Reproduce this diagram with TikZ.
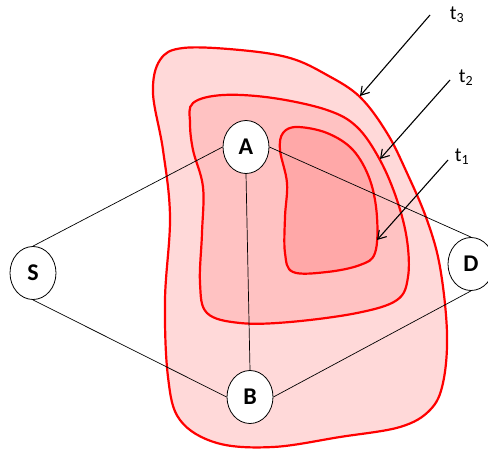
\documentclass[tikz,border=0pt]{standalone}
\usepackage{fontspec}
\setmainfont{Carlito}
\usetikzlibrary{arrows.meta,shapes.geometric}
\begin{document}
\begin{tikzpicture}[
  x={(1pt,0pt)},
  y={(0pt,-1pt)},
  blob/.style={draw=red,line width=2.2pt,smooth cycle,tension=0.6},
  vertex/.style={ellipse,draw,line width=0.8pt,fill=white,minimum width=46pt,minimum height=53pt,
    inner sep=0pt,font=\fontsize{24}{26}\selectfont\bfseries},
  edge/.style={line width=0.7pt},
  pointer/.style={line width=1.1pt,-{Straight Barb[length=8pt,width=10pt]}},
  tlabel/.style={font=\fontsize{20}{22}\selectfont,inner sep=0pt}
]
\useasboundingbox (0,0) rectangle (488,450);
\filldraw[blob,fill=red!15] plot coordinates {(183,48) (240,50) (290,58) (327,75) (360,97)
  (387,133) (407,173) (427,220) (440,267) (447,333) (443,383) (430,410) (400,427)
  (340,437) (273,447) (217,443) (180,420) (168,377) (165,300) (170,217) (163,150)
  (153,93) (160,60)};
\filldraw[blob,fill=red!24] plot coordinates {(193,103) (223,95) (273,98) (327,110)
  (357,127) (380,160) (397,200) (407,240) (408,277) (397,300) (357,313) (290,322)
  (240,323) (207,313) (200,283) (202,233) (203,187) (193,150) (190,123)};
\filldraw[blob,fill=red!34] plot coordinates {(283,133) (297,127) (327,133) (353,150)
  (370,180) (377,217) (375,253) (360,265) (327,272) (293,272) (285,253) (285,217)
  (287,183) (280,150)};
\node[vertex] (S) at (33,273) {S};
\node[vertex] (A) at (246,147) {A};
\node[vertex] (B) at (250,397) {B};
\node[vertex] (D) at (471,264) {D};
\draw[edge] (S.north) -- (A.west);
\draw[edge] (S.south) -- (B.west);
\draw[edge] (A.south) -- (B.north);
\draw[edge] (A.east) -- (D.north);
\draw[edge] (B.east) -- (D.south);
\node[tlabel] (t3) at (457,15) {t\textsubscript{3}};
\node[tlabel] (t2) at (466,78) {t\textsubscript{2}};
\node[tlabel] (t1) at (462,157) {t\textsubscript{1}};
\coordinate (t3from) at (430,15);
\coordinate (t3to) at (360,96);
\coordinate (t2from) at (450,80);
\coordinate (t2to) at (380,159);
\coordinate (t1from) at (448,160);
\coordinate (t1to) at (377,240);
\draw[pointer] (t3from) -- (t3to);
\draw[pointer] (t2from) -- (t2to);
\draw[pointer] (t1from) -- (t1to);
\end{tikzpicture}
\end{document}
